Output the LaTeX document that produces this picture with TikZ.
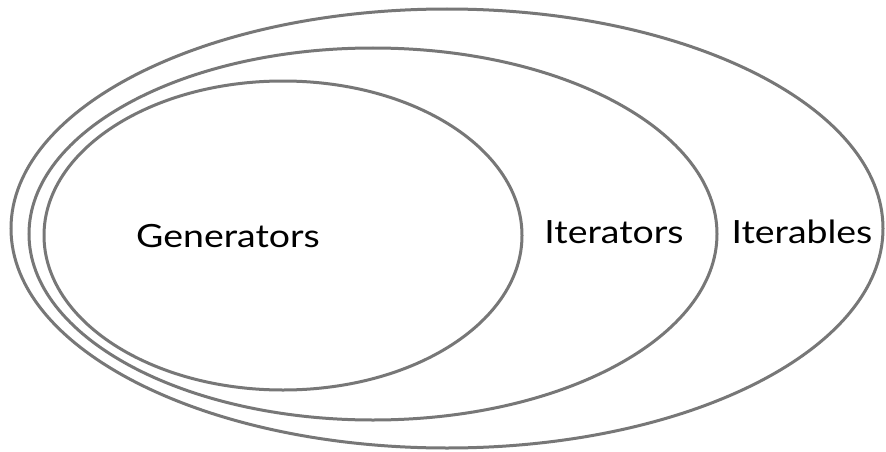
\documentclass[tikz,border=0pt]{standalone}
\usepackage{fontspec}
\setmainfont{Lato}[FakeStretch=1.17]
\begin{document}
\begin{tikzpicture}[x=1pt,y=1pt,
  setring/.style={draw=ringgray,line width=3pt},
  setlabel/.style={font=\fontsize{32}{38}\selectfont,text=black,anchor=base,inner sep=0pt}]
\definecolor{ringgray}{HTML}{777777}
\useasboundingbox[fill=white] (0,0) rectangle (886,451);
% nested sets, outermost first
\draw[setring] (447,222.5) ellipse [x radius=436,y radius=219.5];
\draw[setring] (373,217) ellipse [x radius=344,y radius=186];
\draw[setring] (283,215.5) ellipse [x radius=239,y radius=154.5];
% labels
\node[setlabel] (gen) at (228,204) {Generators};
\node[setlabel] (itr) at (614,208) {Iterators};
\node[setlabel] (itb) at (802,208) {Iterables};
\end{tikzpicture}
\end{document}
